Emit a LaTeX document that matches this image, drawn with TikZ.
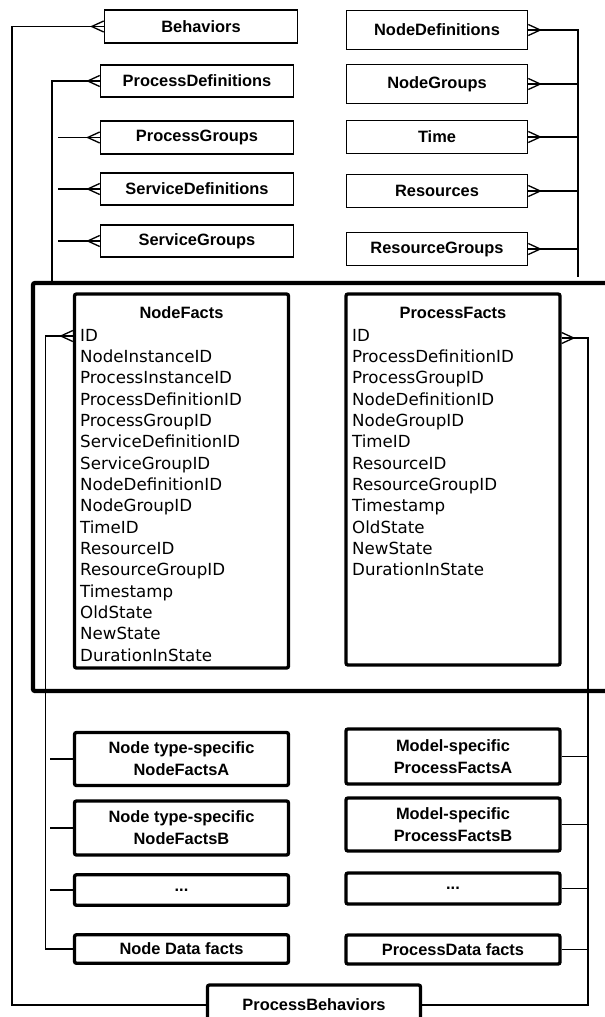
\documentclass[tikz,border=0pt]{standalone}
\usepackage{fontspec}
\setmainfont{Liberation Sans}
\newfontfamily\fieldfont{DejaVu Sans}

\tikzset{every picture/.style={line width=1pt}}
\tikzset{
  entity/.style={draw, line width=1.2pt, inner sep=0pt, align=center, font=\bfseries\fontsize{12.3}{16.5}\selectfont},
  facts/.style={draw, line width=2.5pt, rounded corners=1.5pt, inner sep=0pt, align=center, font=\bfseries\fontsize{12.3}{16.5}\selectfont},
  fieldlist/.style={inner sep=0pt, align=left, anchor=north west, font=\fieldfont\fontsize{12.5}{16}\selectfont},
  crowl/.pic={\draw (0,-5.5) -- (-12,0) -- (0,5.5);},
  crowr/.pic={\draw (0,-5.5) -- (12,0) -- (0,5.5);}
}

\begin{document}
\begin{tikzpicture}[x=0.75pt,y=0.75pt,yscale=-1,xscale=1]
\useasboundingbox (0,0) rectangle (605,1017);
\clip (0,0) rectangle (605,1017);

%Shape: Rectangle [outer frame]
\draw [line width=3.2pt, rounded corners=1.5pt] (33,283) rectangle (640,691);

% Text Node
\draw (201,26.5) node [entity, minimum width=144.75pt, minimum height=24.4pt] (behav) {Behaviors};
% Text Node
\draw (197,81) node [entity, minimum width=144.75pt, minimum height=24.4pt] (pdef) {ProcessDefinitions};
% Text Node
\draw (197,137.5) node [entity, minimum width=144.75pt, minimum height=24.4pt] (pgrp) {ProcessGroups};
% Text Node
\draw (197,189) node [entity, minimum width=144.75pt, minimum height=24.4pt] (sdef) {ServiceDefinitions};
% Text Node
\draw (197,241) node [entity, minimum width=144.75pt, minimum height=24.4pt] (sgrp) {ServiceGroups};

% Text Node
\draw (437,30) node [entity, minimum width=135.75pt, minimum height=29.25pt] (ndef) {NodeDefinitions};
% Text Node
\draw (437,84) node [entity, minimum width=135.75pt, minimum height=29.25pt] (ngrp) {NodeGroups};
% Text Node
\draw (437,137) node [entity, minimum width=135.75pt, minimum height=24.75pt] (time) {Time};
% Text Node
\draw (437,191) node [entity, minimum width=135.75pt, minimum height=24.75pt] (res) {Resources};
% Text Node
\draw (437,249) node [entity, minimum width=135.75pt, minimum height=24.75pt] (rgrp) {ResourceGroups};

%Shape: Rectangle [NodeFacts]
\draw (181.5,481) node [facts, minimum width=160.5pt, minimum height=280.5pt] (nf) {};
\draw (181.5,313) node [font=\bfseries\fontsize{12.3}{16.5}\selectfont] (nftitle) {NodeFacts};
\draw (79.5,328.5) node [fieldlist] (nfields) {ID\\NodeInstanceID\\ProcessInstanceID\\ProcessDefinitionID\\ProcessGroupID\\ServiceDefinitionID\\ServiceGroupID\\NodeDefinitionID\\NodeGroupID\\TimeID\\ResourceID\\ResourceGroupID\\Timestamp\\OldState\\NewState\\DurationInState};

%Shape: Rectangle [ProcessFacts]
\draw (453,479.5) node [facts, minimum width=160.5pt, minimum height=278.25pt] (pf) {};
\draw (453,313) node [font=\bfseries\fontsize{12.3}{16.5}\selectfont] (pftitle) {ProcessFacts};
\draw (351.5,328.5) node [fieldlist] (pfields) {ID\\ProcessDefinitionID\\ProcessGroupID\\NodeDefinitionID\\NodeGroupID\\TimeID\\ResourceID\\ResourceGroupID\\Timestamp\\OldState\\NewState\\DurationInState};

% Text Node
\draw (181.5,759) node [facts, minimum width=160.5pt, minimum height=39.75pt] (nfa) {Node type-specific\\NodeFactsA};
% Text Node
\draw (181.5,828) node [facts, minimum width=160.5pt, minimum height=40.5pt] (nfb) {Node type-specific\\NodeFactsB};
% Text Node
\draw (181.5,890) node [facts, minimum width=160.5pt, minimum height=22.9pt] (ndots) {...};
% Text Node
\draw (181.5,949) node [facts, minimum width=160.5pt, minimum height=21.4pt] (ndata) {Node Data facts};

% Text Node
\draw (453,756.5) node [facts, minimum width=160.5pt, minimum height=41.25pt] (pfa) {Model-specific\\ProcessFactsA};
% Text Node
\draw (453,824.5) node [facts, minimum width=160.5pt, minimum height=39.75pt] (pfb) {Model-specific\\ProcessFactsB};
% Text Node
\draw (453,888.5) node [facts, minimum width=160.5pt, minimum height=23.25pt] (pdots) {...};
% Text Node
\draw (453,949.5) node [facts, minimum width=160.5pt, minimum height=21.75pt] (pdata) {ProcessData facts};

% Text Node
\draw (314,1005) node [facts, minimum width=159.75pt, minimum height=30pt] (pbeh) {ProcessBehaviors};

% bends of the connectors
\coordinate (lout) at (12,0);
\coordinate (lin) at (52,283);
\coordinate (stub) at (58,0);
\coordinate (rin) at (578,277);
\coordinate (nfkey) at (45.5,336);
\coordinate (nstub) at (49.5,0);
\coordinate (pfkey) at (588,338);

%Straight Lines [left side]
\draw (behav.west) -- (behav.west -| lout) |- (pbeh.west);
\draw (pdef.west) -| (lin);
\draw (pgrp.west) -- (pgrp.west -| stub);
\draw (sdef.west) -- (sdef.west -| stub);
\draw (sgrp.west) -- (sgrp.west -| stub);
\pic at (behav.west) {crowl};
\pic at (pdef.west) {crowl};
\pic at (pgrp.west) {crowl};
\pic at (sdef.west) {crowl};
\pic at (sgrp.west) {crowl};

%Straight Lines [right side]
\draw (ndef.east) -| (rin);
\draw (ngrp.east) -- (ngrp.east -| rin);
\draw (time.east) -- (time.east -| rin);
\draw (res.east) -- (res.east -| rin);
\draw (rgrp.east) -- (rgrp.east -| rin);
\pic at (ndef.east) {crowr};
\pic at (ngrp.east) {crowr};
\pic at (time.east) {crowr};
\pic at (res.east) {crowr};
\pic at (rgrp.east) {crowr};

%Straight Lines [NodeFacts]
\draw (nfkey -| nf.west) -- (nfkey) |- (ndata.west);
\pic at (nfkey -| nf.west) {crowl};
\draw (nfa.west) -- (nfa.west -| nstub);
\draw (nfb.west) -- (nfb.west -| nstub);
\draw (ndots.west) -- (ndots.west -| nstub);

%Straight Lines [ProcessFacts]
\draw (pfkey -| pf.east) -- (pfkey) |- (pbeh.east);
\pic at (pfkey -| pf.east) {crowr};
\draw (pfa.east) -- (pfa.east -| pfkey);
\draw (pfb.east) -- (pfb.east -| pfkey);
\draw (pdots.east) -- (pdots.east -| pfkey);
\draw (pdata.east) -- (pdata.east -| pfkey);
\end{tikzpicture}
\end{document}
